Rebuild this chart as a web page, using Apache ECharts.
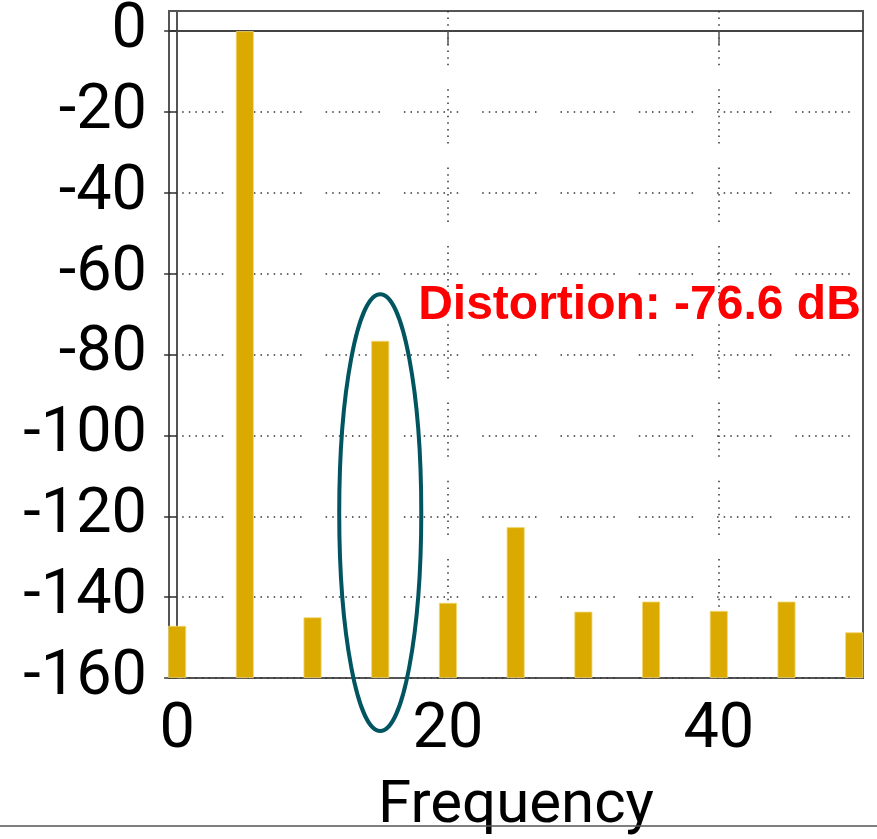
<!DOCTYPE html>
<html><head><meta charset="utf-8">
<script src="https://cdn.jsdelivr.net/npm/echarts@6.0.0/dist/echarts.min.js"></script>
<style>html,body{margin:0;padding:0;background:#fff}#c{width:877px;height:839px}</style>
</head><body><div id="c"></div>
<script>
// ---- data ----
const frequencies = [0, 5, 10, 15, 20, 25, 30, 35, 40, 45, 50];
const levelsDb = [-147.1, 0, -145, -76.6, -141.4, -122.7, -143.6, -141.1, -143.4, -141.1, -148.7];
const xTickValues = [0, 20, 40];
const yTickValues = [-160, -140, -120, -100, -80, -60, -40, -20, 0];
const xAxisName = 'Frequency';
const annotationText = 'Distortion: -76.6 dB';
const highlightFreq = 15;

// ---- chart ----
const chart = echarts.init(document.getElementById('c'), null, {renderer: 'canvas'});
const FONT = 'Roboto, "DejaVu Sans", sans-serif';

// dotted grid pattern: groups of dots with gaps
const dotPattern = [];
for (let i = 0; i < 9; i++) { dotPattern.push(1.5, 5.1); }
dotPattern[dotPattern.length - 1] = 24;

const seriesData = frequencies.map((f, i) => [f, levelsDb[i]]);

chart.setOption({
  animation: false,
  backgroundColor: '#fff',
  grid: {left: 169, right: 14, top: 11, bottom: 161, outerBoundsMode: 'none', containLabel: false,
         show: true, borderColor: '#555', borderWidth: 2, backgroundColor: 'transparent'},
  xAxis: {
    type: 'value', min: -0.6, max: 50.65,
    name: xAxisName, nameLocation: 'middle', nameGap: 99,
    nameTextStyle: {fontFamily: FONT, fontSize: 60, color: '#000'},
    axisLine: {show: true, lineStyle: {color: '#444', width: 2}},
    axisTick: {show: true, inside: false, length: 14, customValues: xTickValues, lineStyle: {color: '#555', width: 1.5}},
    axisLabel: {customValues: xTickValues, margin: 22, fontFamily: FONT, fontSize: 63, color: '#000'},
    splitLine: {show: true, lineStyle: {color: '#333', width: 1.5, type: dotPattern}}
  },
  yAxis: {
    type: 'value', min: -160, max: 5, startValue: -160,
    axisLine: {show: true, lineStyle: {color: '#555', width: 2}},
    axisTick: {show: true, inside: false, length: 13, customValues: yTickValues, lineStyle: {color: '#333', width: 1.5}},
    axisLabel: {customValues: yTickValues, margin: 22, fontFamily: FONT, fontSize: 63, color: '#000'},
    splitLine: {show: true, lineStyle: {color: '#333', width: 1.5, type: dotPattern}}
  },
  series: [{
    type: 'bar',
    data: seriesData,
    barWidth: 18,
    clip: true,
    itemStyle: {color: '#DAAA00', borderColor: '#F2D774', borderWidth: 0.8}
  }]
});

// annotations positioned via data coordinates
function placeAnnotations() {
  const c = chart.convertToPixel({gridIndex: 0}, [highlightFreq, -119.1]);
  const e1 = chart.convertToPixel({gridIndex: 0}, [highlightFreq + 3.03, -119.1 + 54]);
  const rx = e1[0] - c[0], ry = c[1] - e1[1];
  const t = chart.convertToPixel({gridIndex: 0}, [17.8, -68.0]);
  chart.setOption({
    graphic: [
      {type: 'ellipse', shape: {cx: c[0], cy: c[1], rx: rx, ry: ry}, style: {fill: 'none', stroke: '#005560', lineWidth: 4}, z: 100},
      {type: 'text', x: t[0], y: t[1], style: {text: annotationText, fill: '#FF0000', font: 'bold 48px "Liberation Sans", Arial, sans-serif', textVerticalAlign: 'middle', textAlign: 'left'}, z: 100},
      {type: 'line', shape: {x1: 0, y1: 826, x2: 877, y2: 826}, style: {stroke: '#555', lineWidth: 1.5}, z: 100}
    ]
  });
}
placeAnnotations();
</script>
</body></html>
